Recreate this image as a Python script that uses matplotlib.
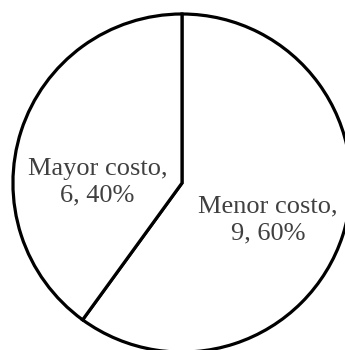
import matplotlib.pyplot as plt

categories = ['Menor costo', 'Mayor costo']
counts = [9, 6]
total = sum(counts)

plt.rcParams['font.family'] = ['Liberation Serif', 'DejaVu Serif']

fig = plt.figure(figsize=(3.45, 3.5), dpi=100)
ax = fig.add_axes([0.0375, -0.006, 0.98, 0.966])

wedges, _ = ax.pie(counts, startangle=90, counterclock=False,
                   colors=['white', 'white'],
                   wedgeprops=dict(edgecolor='black', linewidth=2.3))
for w in wedges:
    w.set_clip_on(False)

# label placement inside each slice
label_pos = [(0.51, -0.22), (-0.50, 0.005)]
for name, n, (x, y) in zip(categories, counts, label_pos):
    pct = round(100 * n / total)
    ax.text(x, y, f'{name},\n{n}, {pct}%', ha='center', va='center',
            fontsize=19, linespacing=1.3, color='#404040')

ax.set_xlim(-1, 1)
ax.set_ylim(-1, 1)
ax.set_aspect('equal')
ax.axis('off')

fig.savefig('out.png', dpi=100)
